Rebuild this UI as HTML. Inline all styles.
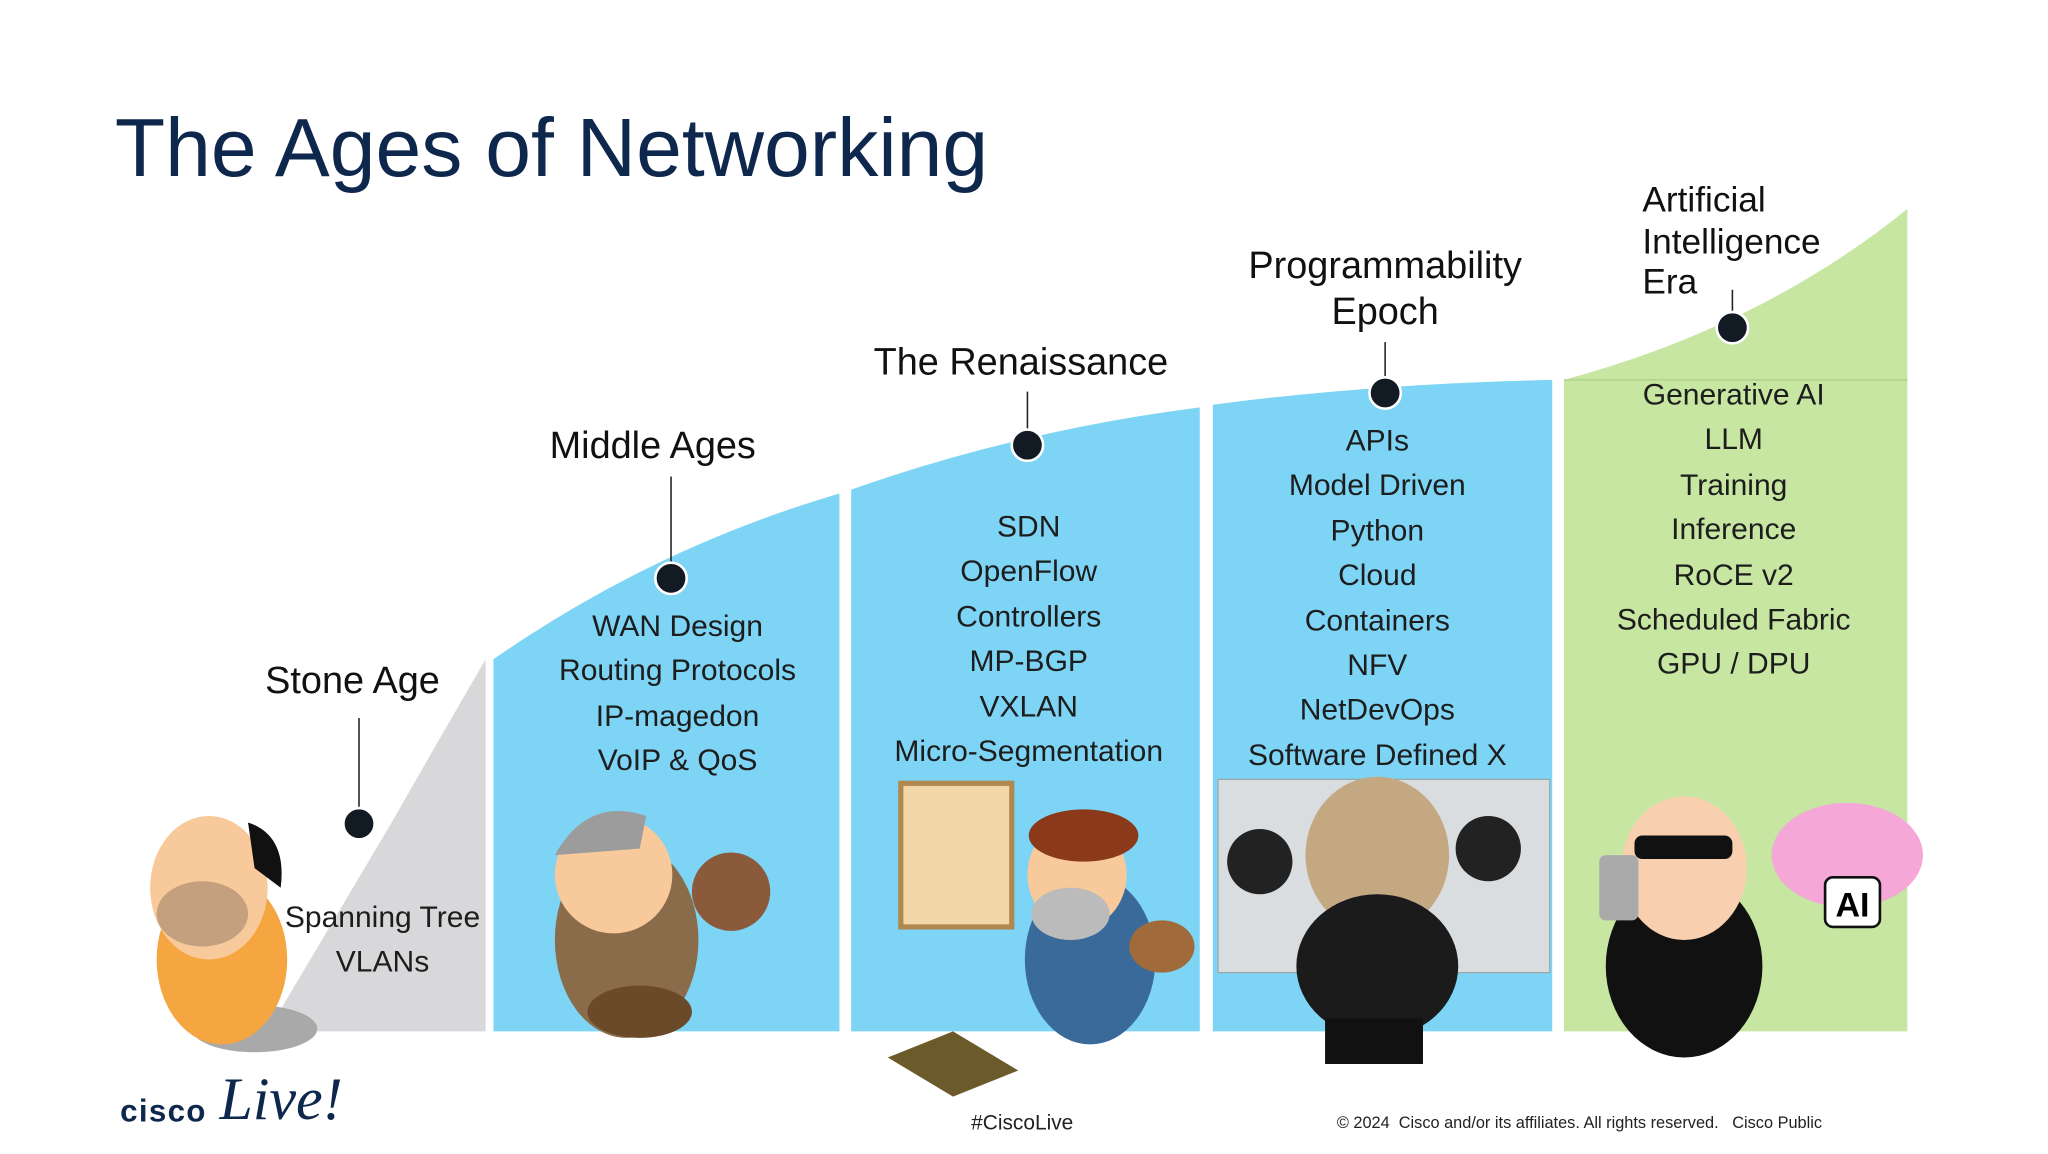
<!DOCTYPE html>
<html><head><meta charset="utf-8"><style>
html,body{margin:0;padding:0;background:#fff;width:2048px;height:1152px;overflow:hidden}
#s{position:absolute;left:0;top:0;width:1570px;height:884px;transform:scale(1.3055);transform-origin:0 0;font-family:"Liberation Sans",sans-serif}
.t{position:absolute;white-space:nowrap;color:#1a1a1a}
.c{transform:translateX(-50%);text-align:center}
.list{position:absolute;transform:translateX(-50%);text-align:center;font-size:23px;line-height:34.4px;color:#1d1d1d;white-space:nowrap}
.h{font-size:29px;color:#111}
</style></head><body><div id="s">
<svg width="1570" height="884" style="position:absolute;left:0;top:0">
<path d="M205,790 L300,630 Q340,560 372,505 L372,790 Z" fill="#d8d8da"/>
<path d="M378,505 Q500,420 643,378 L643,790 L378,790 Z" fill="#7dd4f5"/>
<path d="M652,375 Q780,330 919,312 L919,790 L652,790 Z" fill="#7dd4f5"/>
<path d="M929,310 Q1050,294 1189,291 L1189,790 L929,790 Z" fill="#7dd4f5"/>
<path d="M1198,291 Q1350,250 1461,160 L1461,790 L1198,790 Z" fill="#c6e6a2"/>
<line x1="1198" y1="291" x2="1461" y2="291" stroke="#a9cf86" stroke-width="1"/>
<rect x="933" y="597" width="254" height="148" fill="#d9dde0" stroke="#9aa" stroke-width="1"/>
<g stroke="#222" stroke-width="1.2">
<line x1="275" y1="550" x2="275" y2="620"/><line x1="514" y1="365" x2="514" y2="432"/>
<line x1="787" y1="300" x2="787" y2="330"/><line x1="1061" y1="262" x2="1061" y2="290"/>
<line x1="1327" y1="222" x2="1327" y2="240"/></g>
<g fill="#121a24" stroke="#fff" stroke-width="2">
<circle cx="275" cy="631" r="12"/><circle cx="514" cy="443" r="12"/><circle cx="787" cy="341" r="12"/>
<circle cx="1061" cy="301" r="12"/><circle cx="1327" cy="251" r="12"/></g>
<ellipse cx="195" cy="788" rx="48" ry="18" fill="#a9a9a9"/>
<ellipse cx="170" cy="735" rx="50" ry="65" fill="#f5a640"/>
<ellipse cx="160" cy="680" rx="45" ry="55" fill="#f8c99a"/>
<ellipse cx="155" cy="700" rx="35" ry="25" fill="#c4a07f"/>
<path d="M190,630 Q220,640 215,680 L195,665 Z" fill="#111"/>
<ellipse cx="480" cy="720" rx="55" ry="75" fill="#8a6b4a"/>
<ellipse cx="470" cy="670" rx="45" ry="45" fill="#f8c99a"/>
<path d="M425,655 Q450,610 495,625 L490,650 Z" fill="#9c9c9c"/>
<circle cx="560" cy="683" r="30" fill="#8a5a3a"/>
<ellipse cx="490" cy="775" rx="40" ry="20" fill="#6b4a2a"/>
<rect x="690" y="600" width="85" height="110" fill="#f2d7a8" stroke="#b08850" stroke-width="4"/>
<ellipse cx="835" cy="735" rx="50" ry="65" fill="#3a6a9a"/>
<ellipse cx="825" cy="670" rx="38" ry="42" fill="#f8c99a"/>
<ellipse cx="830" cy="640" rx="42" ry="20" fill="#8a3a1a"/>
<ellipse cx="820" cy="700" rx="30" ry="20" fill="#bbb"/>
<ellipse cx="890" cy="725" rx="25" ry="20" fill="#a06a3a"/>
<path d="M680,810 L730,790 L780,820 L730,840 Z" fill="#6b5a2a"/>
<ellipse cx="1055" cy="655" rx="55" ry="60" fill="#c4a882"/>
<ellipse cx="1055" cy="740" rx="62" ry="55" fill="#1b1b1b"/>
<rect x="1015" y="780" width="75" height="35" fill="#111"/>
<ellipse cx="965" cy="660" rx="25" ry="25" fill="#222"/>
<ellipse cx="1140" cy="650" rx="25" ry="25" fill="#222"/>
<ellipse cx="1290" cy="740" rx="60" ry="70" fill="#111"/>
<ellipse cx="1290" cy="665" rx="48" ry="55" fill="#f8d0b0"/>
<rect x="1252" y="640" width="75" height="18" rx="6" fill="#111"/>
<rect x="1225" y="655" width="30" height="50" rx="5" fill="#aaa"/>
<ellipse cx="1415" cy="655" rx="58" ry="40" fill="#f5a8d8"/>
<rect x="1398" y="672" width="42" height="38" rx="6" fill="#fff" stroke="#111" stroke-width="2"/>
<text x="1419" y="702" font-family="Liberation Sans" font-weight="bold" font-size="26" text-anchor="middle">AI</text>
</svg>
<div class="t" style="left:88px;top:78px;font-size:63px;color:#0d274d">The Ages of Networking</div>
<div class="t c h" style="left:270px;top:506px">Stone Age</div>
<div class="t c h" style="left:500px;top:326px">Middle Ages</div>
<div class="t c h" style="left:782px;top:262px">The Renaissance</div>
<div class="t c h" style="left:1061px;top:187px;line-height:35px">Programmability<br>Epoch</div>
<div class="t h" style="left:1258px;top:138px;font-size:27px;line-height:31.5px">Artificial<br>Intelligence<br>Era</div>
<div class="list" style="left:293px;top:685px">Spanning Tree<br>VLANs</div>
<div class="list" style="left:519px;top:462px">WAN Design<br>Routing Protocols<br>IP-magedon<br>VoIP &amp; QoS</div>
<div class="list" style="left:788px;top:386px">SDN<br>OpenFlow<br>Controllers<br>MP-BGP<br>VXLAN<br>Micro-Segmentation</div>
<div class="list" style="left:1055px;top:320px">APIs<br>Model Driven<br>Python<br>Cloud<br>Containers<br>NFV<br>NetDevOps<br>Software Defined X</div>
<div class="list" style="left:1328px;top:285px">Generative AI<br>LLM<br>Training<br>Inference<br>RoCE v2<br>Scheduled Fabric<br>GPU / DPU</div>
<div class="t" style="left:92px;top:838px;font-size:24px;font-weight:bold;color:#0d274d;letter-spacing:1px">cisco</div>
<div class="t" style="left:168px;top:815px;font-size:46px;font-style:italic;color:#0d274d;font-family:'Liberation Serif',serif">Live!</div>
<div class="t c" style="left:783px;top:852px;font-size:16px;color:#222">#CiscoLive</div>
<div class="t" style="left:1024px;top:853px;font-size:12.5px;color:#222">© 2024 &nbsp;Cisco and/or its affiliates. All rights reserved. &nbsp;&nbsp;Cisco Public</div>
</div></body></html>
